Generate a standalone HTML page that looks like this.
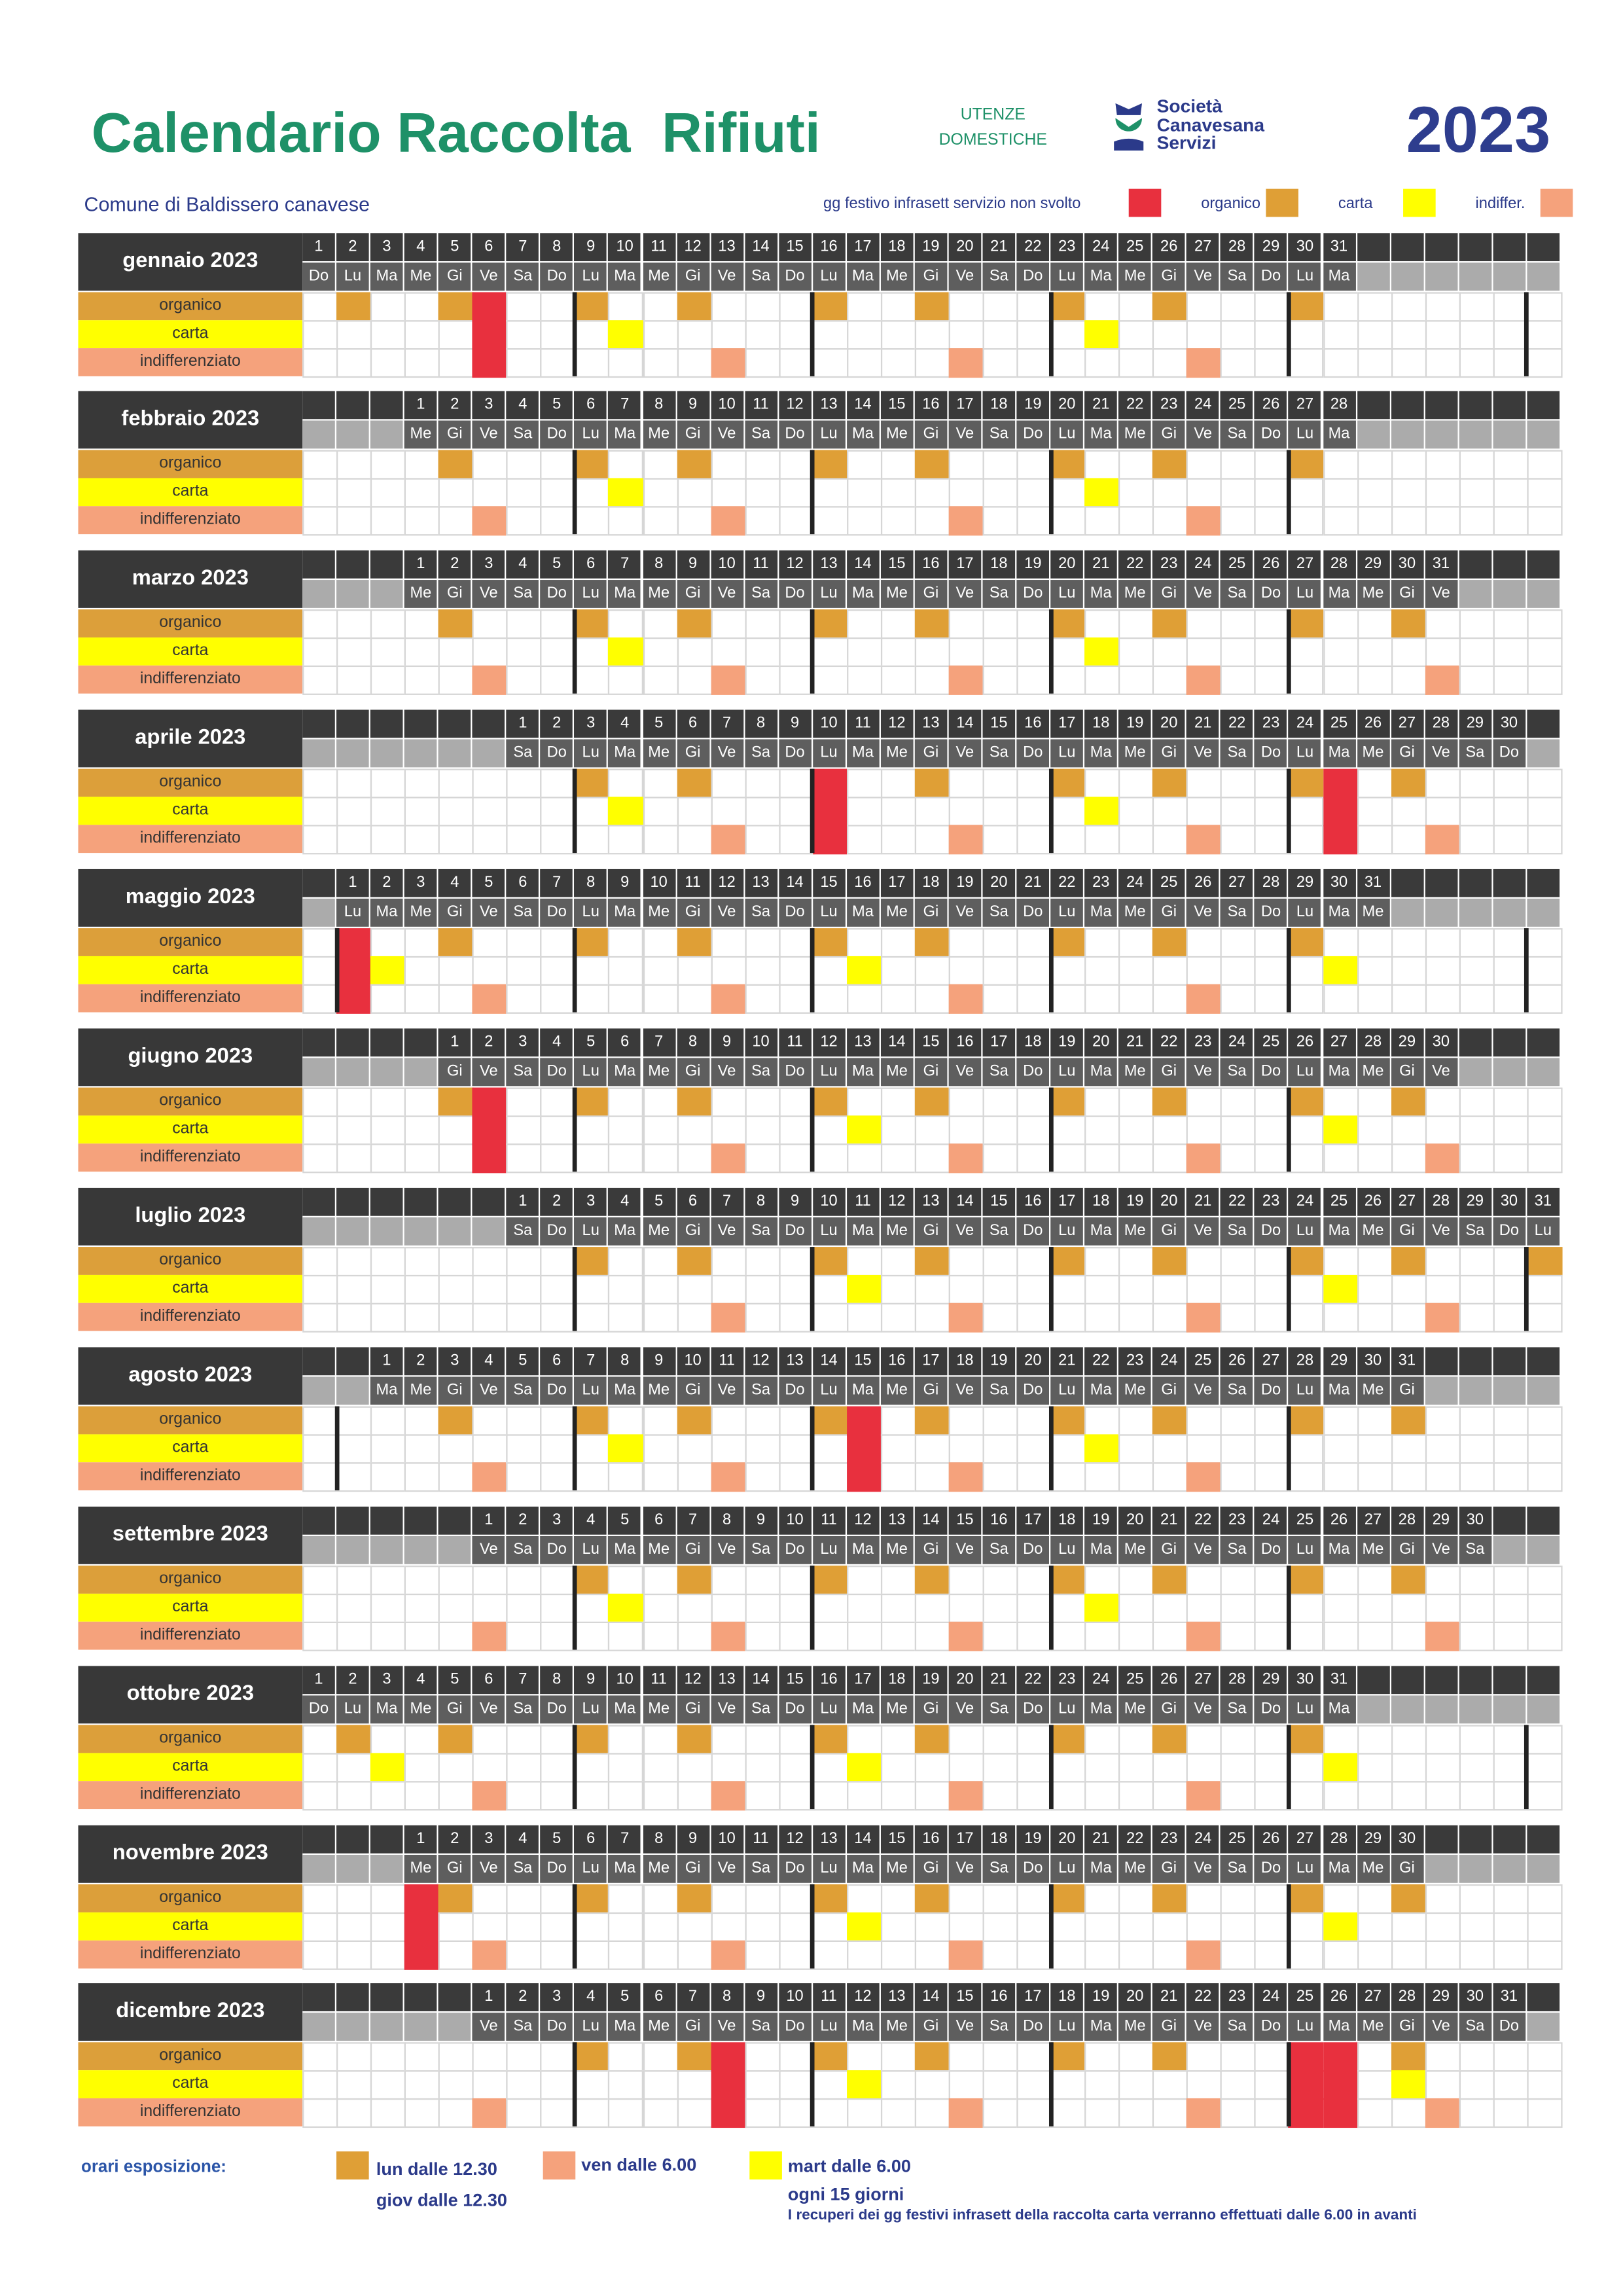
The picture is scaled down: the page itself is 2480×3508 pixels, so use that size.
<!DOCTYPE html>
<html><head><meta charset="utf-8">
<style>
html,body{margin:0;padding:0;background:#fff;}
body{width:2480px;height:3507px;overflow:hidden;position:relative;}
#c{position:absolute;left:0;top:0;width:1100px;height:1556px;transform:scale(2.254545);transform-origin:0 0;font-family:"Liberation Sans",sans-serif;}
#c div{position:absolute;box-sizing:border-box;}
.n{font-family:"Liberation Sans Narrow","Liberation Sans",sans-serif;color:#fff;font-size:10.5px;text-align:center;}
.t{white-space:nowrap;}
</style></head><body>
<div id="c">
<div class="t" style="left:62px;top:70px;font-size:38px;color:#1e9168;font-weight:bold;">Calendario Raccolta&nbsp; Rifiuti</div>
<div class="t" style="left:634px;top:70px;font-size:11px;color:#1e9168;line-height:17px;text-align:center;width:78px;">UTENZE<br>DOMESTICHE</div>
<div style="left:753px;top:68px;width:24px;height:36px;">
 <svg width="24" height="36" viewBox="0 0 24 36"><path d="M3 2 L12 6 L21 2 L20 10 L4 10Z" fill="#2b3a8a"/><path d="M3 12 C3 24 21 24 21 12 L12 18Z" fill="#1e9168"/><path d="M2 28 Q12 24 22 28 L22 34 L2 34Z" fill="#2b3a8a"/></svg>
</div>
<div class="t" style="left:784px;top:66px;font-size:12.5px;color:#2b3a8a;font-weight:bold;line-height:12.5px;">Società<br>Canavesana<br>Servizi</div>
<div class="t" style="left:953px;top:64px;font-size:44px;color:#2e3d8e;font-weight:bold;">2023</div>
<div class="t" style="left:57px;top:131px;font-size:13.5px;color:#2b3a8a;">Comune di Baldissero canavese</div>
<div class="t" style="left:558px;top:132px;font-size:10.5px;color:#2b3a8a;">gg festivo infrasett servizio non svolto</div>
<div style="left:765px;top:128px;width:22px;height:19px;background:#e8303e;"></div>
<div class="t" style="left:814px;top:132px;font-size:10.5px;color:#2b3a8a;">organico</div>
<div style="left:858px;top:128px;width:22px;height:19px;background:#df9f36;"></div>
<div class="t" style="left:907px;top:132px;font-size:10.5px;color:#2b3a8a;">carta</div>
<div style="left:951px;top:128px;width:22px;height:19px;background:#ffff00;"></div>
<div class="t" style="left:1000px;top:132px;font-size:10.5px;color:#2b3a8a;">indiffer.</div>
<div style="left:1044px;top:128px;width:22px;height:19px;background:#f5a27c;"></div>

<div class="t" style="left:55px;top:1463px;font-size:11.5px;color:#2b55a8;font-weight:bold;">orari esposizione:</div>
<div style="left:228px;top:1458px;width:22px;height:19px;background:#df9f36;"></div>
<div class="t" style="left:255px;top:1460px;font-size:12px;color:#2b3a8a;line-height:21px;font-weight:bold;">lun dalle 12.30<br>giov dalle 12.30</div>
<div style="left:368px;top:1458px;width:22px;height:19px;background:#f5a27c;"></div>
<div class="t" style="left:394px;top:1460px;font-size:12px;color:#2b3a8a;font-weight:bold;">ven dalle 6.00</div>
<div style="left:508px;top:1458px;width:22px;height:19px;background:#ffff00;"></div>
<div class="t" style="left:534px;top:1459px;font-size:12px;color:#2b3a8a;line-height:19px;font-weight:bold;">mart dalle 6.00<br>ogni 15 giorni</div>
<div class="t" style="left:534px;top:1496px;font-size:10px;color:#2b3a8a;font-weight:bold;">I recuperi dei gg festivi infrasett della raccolta carta verranno effettuati dalle 6.00 in avanti</div>
</div>
<script>
var g=document.getElementById('c');
function d(l,t,w,h,bg,txt,cls,extra){var e=document.createElement('div');e.style.cssText='left:'+l+'px;top:'+t+'px;width:'+w+'px;height:'+h+'px;'+(bg?'background:'+bg+';':'')+(extra||'');if(cls)e.className=cls;if(txt!==undefined)e.textContent=txt;g.appendChild(e);return e;}
var months=['gennaio','febbraio','marzo','aprile','maggio','giugno','luglio','agosto','settembre','ottobre','novembre','dicembre'];
var off=[0,3,3,6,1,4,6,2,5,0,3,5];
var nd=[31,28,31,30,31,30,31,31,30,31,30,31];
var dn=['Do','Lu','Ma','Me','Gi','Ve','Sa'];
var hol={'0-6':1,'3-10':1,'3-25':1,'4-1':1,'5-2':1,'7-15':1,'10-1':1,'11-8':1,'11-25':1,'11-26':1};
var col1={4:1,7:1},col36={0:1,4:1,6:1,9:1};
var X0=205,W=23.05,OR='#df9f36',YE='#ffff00',SA='#f5a27c',RE='#e8303e';
var doy=0;
for(var m=0;m<12;m++){
 var T=157.5+m*107.9;
 d(53,T,152,39,'#383838',months[m]+' 2023','t','color:#fff;font-size:14.5px;text-align:center;line-height:39px;font-weight:bold;');
 d(53,T+40,152,19,'#dc9f3a','organico','t','font-size:11px;color:#333;text-align:center;line-height:19px;');
 d(53,T+59,152,19,'#ffff00','carta','t','font-size:11px;color:#333;text-align:center;line-height:19px;');
 d(53,T+78,152,19,'#f5a27c','indifferenziato','t','font-size:11px;color:#333;text-align:center;line-height:19px;');
 for(var c=0;c<37;c++){
  var x=X0+c*W, day=c-off[m]+1, inm=day>=1&&day<=nd[m];
  d(x,T,W-1,19,'#3a3a3a',inm?String(day):'', 'n','line-height:19px;');
  d(x,T+20,W-1,19,inm?'#5e5e5e':'#ababab',inm?dn[c%7]:'', 'n','line-height:19px;');
  for(var r=0;r<3;r++){
   var bg=null;
   if(inm){
    var wd=c%7, n=doy+day;
    if(hol[m+'-'+day]) bg=RE;
    else if(r==0&&(wd==1||wd==4)) bg=OR;
    else if(r==1&&((n-10)%14==0||(m==11&&day==28))) bg=YE;
    else if(r==2&&wd==5) bg=SA;
   }
   d(x,T+40+r*19,W+1,20,bg||'#fff',undefined,null,bg?'':'border:0.6px solid #d6d6d6;');
  }
 }
 var lines=[8,15,22,29];if(col1[m])lines.push(1);if(col36[m])lines.push(36);
 lines.forEach(function(c){d(X0+c*W-1.5,T+40,3,57,'#222');});
 doy+=nd[m];
}
</script>
</body></html>
